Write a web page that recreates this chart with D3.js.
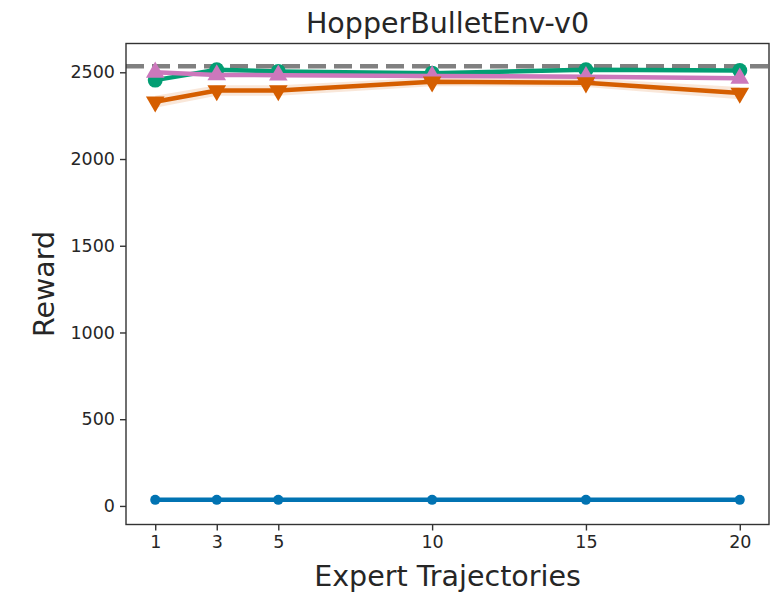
<!DOCTYPE html>
<html>
<head>
<meta charset="utf-8">
<script src="https://cdn.jsdelivr.net/npm/d3@7"></script>
<style>
  body { margin: 0; background: #fff; }
  text { font-family: "DejaVu Sans", sans-serif; fill: #262626; }
</style>
</head>
<body>
<div class="chart"></div>
<script>
// data
var trajectories = [1, 3, 5, 10, 15, 20];
var xTicks = [1, 3, 5, 10, 15, 20];
var yTicks = [0, 500, 1000, 1500, 2000, 2500];
var expertReward = 2535;
var greenVals = [2455, 2515, 2505, 2495, 2515, 2510];
var pinkVals = [2500, 2485, 2483, 2478, 2475, 2465];
var orangeVals = [2330, 2395, 2395, 2445, 2440, 2380];
var orangeSpread = [35, 30, 30, 25, 25, 35];
var blueVals = [35, 35, 35, 35, 35, 35];

var svgWidth = 779;
var svgHeight = 593;
var margin = { top: 43.5, right: 10, bottom: 68.5, left: 126 };
var width = svgWidth - margin.left - margin.right;
var height = svgHeight - margin.top - margin.bottom;

var svg = d3.select('.chart')
  .append('svg')
    .attr('width', svgWidth)
    .attr('height', svgHeight);

var chart = svg.append('g')
    .attr('transform', 'translate(' + margin.left + ',' + margin.top + ')');

var xScale = d3.scaleLinear().domain([0.05, 20.95]).range([0, width]);
var yScale = d3.scaleLinear().domain([-107, 2666]).range([height, 0]);

// clip for the plot area
svg.append('defs').append('clipPath').attr('id', 'plotclip')
  .append('rect').attr('width', width).attr('height', height);
var plot = chart.append('g').attr('clip-path', 'url(#plotclip)');

var line = d3.line()
  .x(function(d) { return xScale(d.x); })
  .y(function(d) { return yScale(d.y); });

function pts(vals) {
  return trajectories.map(function(x, i) { return { x: x, y: vals[i] }; });
}

// expert reference (dashed)
plot.append('line')
  .attr('x1', 0).attr('x2', width)
  .attr('y1', yScale(expertReward)).attr('y2', yScale(expertReward))
  .attr('stroke', '#808080')
  .attr('stroke-width', 4.5)
  .attr('stroke-dasharray', '18,8');

// orange band
var area = d3.area()
  .x(function(d, i) { return xScale(trajectories[i]); })
  .y0(function(d, i) { return yScale(orangeVals[i] - orangeSpread[i]); })
  .y1(function(d, i) { return yScale(orangeVals[i] + orangeSpread[i]); });
plot.append('path')
  .datum(orangeVals)
  .attr('d', area)
  .attr('fill', '#d55e00')
  .attr('opacity', 0.15);

// blue series
plot.append('path')
  .datum(pts(blueVals))
  .attr('d', line)
  .attr('fill', 'none')
  .attr('stroke', '#0173b2')
  .attr('stroke-width', 4.5);
plot.selectAll('.blue-dot')
  .data(pts(blueVals))
  .enter().append('circle')
  .attr('class', 'blue-dot')
  .attr('cx', function(d) { return xScale(d.x); })
  .attr('cy', function(d) { return yScale(d.y); })
  .attr('r', 5)
  .attr('fill', '#0173b2');

// green series (circles)
plot.append('path')
  .datum(pts(greenVals))
  .attr('d', line)
  .attr('fill', 'none')
  .attr('stroke', '#029e73')
  .attr('stroke-width', 4.5);
plot.selectAll('.green-dot')
  .data(pts(greenVals))
  .enter().append('circle')
  .attr('class', 'green-dot')
  .attr('cx', function(d) { return xScale(d.x); })
  .attr('cy', function(d) { return yScale(d.y); })
  .attr('r', 7.5)
  .attr('fill', '#029e73');

var triUp = d3.symbol().type(d3.symbolTriangle).size(150);

// pink series (triangle up)
plot.append('path')
  .datum(pts(pinkVals))
  .attr('d', line)
  .attr('fill', 'none')
  .attr('stroke', '#cc78bc')
  .attr('stroke-width', 4.5);
plot.selectAll('.pink-tri')
  .data(pts(pinkVals))
  .enter().append('path')
  .attr('class', 'pink-tri')
  .attr('d', triUp)
  .attr('transform', function(d) {
    return 'translate(' + xScale(d.x) + ',' + yScale(d.y) + ')';
  })
  .attr('fill', '#cc78bc');

// orange series (triangle down)
plot.append('path')
  .datum(pts(orangeVals))
  .attr('d', line)
  .attr('fill', 'none')
  .attr('stroke', '#d55e00')
  .attr('stroke-width', 4.5);
plot.selectAll('.orange-tri')
  .data(pts(orangeVals))
  .enter().append('path')
  .attr('class', 'orange-tri')
  .attr('d', triUp)
  .attr('transform', function(d) {
    return 'translate(' + xScale(d.x) + ',' + yScale(d.y) + ') rotate(180)';
  })
  .attr('fill', '#d55e00');

// axes
var bottomAxis = d3.axisBottom(xScale).tickValues(xTicks).tickSize(6).tickPadding(5);
var leftAxis = d3.axisLeft(yScale).tickValues(yTicks).tickFormat(d3.format('d'))
  .tickSize(6).tickPadding(5);

var xAxisG = chart.append('g')
  .attr('transform', 'translate(0,' + height + ')')
  .call(bottomAxis);
var yAxisG = chart.append('g').call(leftAxis);

[xAxisG, yAxisG].forEach(function(g) {
  g.select('.domain').remove();
  g.selectAll('line').attr('stroke', '#333').attr('stroke-width', 1.4);
  g.selectAll('text').style('font-size', '17.5px').attr('fill', '#262626');
});

// frame
chart.append('rect')
  .attr('width', width)
  .attr('height', height)
  .attr('fill', 'none')
  .attr('stroke', '#333')
  .attr('stroke-width', 1.4);

// title and labels
svg.append('text')
  .attr('x', margin.left + width / 2)
  .attr('y', 33)
  .attr('text-anchor', 'middle')
  .style('font-size', '28.5px')
  .text('HopperBulletEnv-v0');

svg.append('text')
  .attr('x', margin.left + width / 2)
  .attr('y', 586)
  .attr('text-anchor', 'middle')
  .style('font-size', '28.5px')
  .text('Expert Trajectories');

svg.append('text')
  .attr('transform', 'translate(54,' + (margin.top + height / 2) + ') rotate(-90)')
  .attr('text-anchor', 'middle')
  .style('font-size', '28.5px')
  .text('Reward');
</script>
</body>
</html>
